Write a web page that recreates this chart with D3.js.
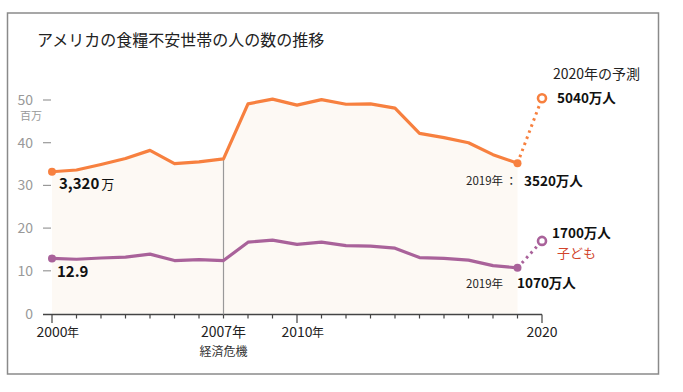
<!DOCTYPE html>
<html><head><meta charset="utf-8">
<script src="https://cdn.jsdelivr.net/npm/d3@7"></script>
<style>
body{margin:0;background:#fff;}
text{font-family:"Noto Sans CJK JP","Noto Sans",sans-serif;}
</style></head>
<body><svg id="c" width="683" height="392"></svg>
<script>
const years = [2000,2001,2002,2003,2004,2005,2006,2007,2008,2009,2010,2011,2012,2013,2014,2015,2016,2017,2018,2019];
const total = [33.2,33.6,34.9,36.3,38.2,35.1,35.5,36.2,49.1,50.2,48.8,50.1,49.0,49.1,48.1,42.2,41.2,40.0,37.2,35.2];
const children = [12.9,12.7,13.0,13.2,13.9,12.4,12.6,12.4,16.7,17.2,16.2,16.7,15.9,15.8,15.3,13.1,12.9,12.5,11.2,10.7];
const forecastYear = 2020;
const totalForecast = 50.4;
const childrenForecast = 17.0;
const yTicks = [0,10,20,30,40,50];
const xLabels = [{y:2000,t:"2000",s:"年"},{y:2007,t:"2007年",s:""},{y:2010,t:"2010",s:"年"},{y:2020,t:"2020",s:""}];

const orange = "#f7803f", purple = "#a9629a";
const svg = d3.select("#c");
const x = d3.scaleLinear().domain([2000,2020]).range([52,542]);
const y = d3.scaleLinear().domain([0,50]).range([313.5,100]);

// frame
svg.append("rect").attr("x",7.5).attr("y",13).attr("width",651).attr("height",361)
  .attr("fill","none").attr("stroke","#8a8a8a").attr("stroke-width",1.5);

// title
svg.append("text").attr("x",37).attr("y",46).attr("font-size",16).attr("fill","#222")
  .text("アメリカの食糧不安世帯の人の数の推移");

// area
const tot = years.map((yr,i)=>({x:yr,v:total[i]}));
const ch = years.map((yr,i)=>({x:yr,v:children[i]}));
svg.append("path").datum(tot)
  .attr("d", d3.area().x(d=>x(d.x)).y0(y(0)).y1(d=>y(d.v)))
  .attr("fill","#fdf9f4");

// y axis ticks
const ya = svg.append("g");
yTicks.forEach(t=>{
  ya.append("text").attr("x",33).attr("y",y(t)+5).attr("text-anchor","end")
    .attr("font-size",14).attr("fill","#999").text(t);
  if(t>0) ya.append("line").attr("x1",43).attr("x2",51).attr("y1",y(t)).attr("y2",y(t))
    .attr("stroke","#999").attr("stroke-width",1.2);
});
ya.append("text").attr("x",20).attr("y",120).attr("font-size",11).attr("fill","#999").text("百万");

// x axis
svg.append("line").attr("x1",43).attr("x2",x(2020)).attr("y1",314.5).attr("y2",314.5)
  .attr("stroke","#444").attr("stroke-width",1.3);
d3.range(2000,2021).forEach(yr=>{
  const major = (yr===2000||yr===2010||yr===2020);
  svg.append("line").attr("x1",x(yr)).attr("x2",x(yr)).attr("y1",314.5).attr("y2",major?323:318.5)
    .attr("stroke","#444").attr("stroke-width",1.2);
});
xLabels.forEach(l=>{
  svg.append("text").attr("x",x(l.y)).attr("y",337).attr("text-anchor","middle")
    .attr("font-size",14).attr("fill","#222").text(l.t);
  if(l.s){
    svg.append("text").attr("x",x(l.y)+15).attr("y",337).attr("font-size",12).attr("fill","#222").text(l.s);
  }
});
svg.append("text").attr("x",x(2007)).attr("y",356).attr("text-anchor","middle")
  .attr("font-size",12).attr("fill","#333").text("経済危機");

// 2007 vertical line
svg.append("line").attr("x1",x(2007)).attr("x2",x(2007)).attr("y1",y(36.2)).attr("y2",314.5)
  .attr("stroke","#999").attr("stroke-width",1.2);

// lines
const line = d3.line().x(d=>x(d.x)).y(d=>y(d.v));
svg.append("path").datum(tot).attr("d",line).attr("fill","none").attr("stroke",orange).attr("stroke-width",3.2).attr("stroke-linejoin","round");
svg.append("path").datum(ch).attr("d",line).attr("fill","none").attr("stroke",purple).attr("stroke-width",3.2).attr("stroke-linejoin","round");

// forecast dotted
function dotted(v0,v1,c){
  svg.append("line").attr("x1",x(2019)).attr("y1",y(v0)).attr("x2",x(forecastYear)).attr("y2",y(v1))
    .attr("stroke",c).attr("stroke-width",3).attr("stroke-dasharray","2.5,4");
}
dotted(total[19],totalForecast,orange);
dotted(children[19],childrenForecast,purple);

// dots
[[2000,total[0],orange],[2019,total[19],orange],[2000,children[0],purple],[2019,children[19],purple]].forEach(d=>{
  svg.append("circle").attr("cx",x(d[0])).attr("cy",y(d[1])).attr("r",4).attr("fill",d[2]);
});
[[totalForecast,orange],[childrenForecast,purple]].forEach(d=>{
  svg.append("circle").attr("cx",x(forecastYear)).attr("cy",y(d[0])).attr("r",4).attr("fill","#fff")
    .attr("stroke",d[1]).attr("stroke-width",2.6);
});

// annotations
const a1 = svg.append("text").attr("x",59).attr("y",189).attr("fill","#111");
a1.append("tspan").attr("font-size",15).attr("font-weight","bold").text("3,320");
a1.append("tspan").attr("font-size",13).attr("dx",2).text("万");
svg.append("text").attr("x",57).attr("y",277).attr("font-size",15).attr("font-weight","bold").attr("fill","#111").text("12.9");

svg.append("text").attr("x",553).attr("y",79).attr("font-size",14).attr("fill","#222").text("2020年の予測");
svg.append("text").attr("x",557).attr("y",103).attr("font-size",13.5).attr("font-weight","bold").attr("fill","#111").text("5040万人");
svg.append("text").attr("x",466).attr("y",185).attr("font-size",11.5).attr("fill","#222").text("2019年 ：");
svg.append("text").attr("x",524).attr("y",186).attr("font-size",13.5).attr("font-weight","bold").attr("fill","#111").text("3520万人");
svg.append("text").attr("x",552).attr("y",238).attr("font-size",13.5).attr("font-weight","bold").attr("fill","#111").text("1700万人");
svg.append("text").attr("x",557).attr("y",258).attr("font-size",13).attr("fill","#d2442b").text("子ども");
svg.append("text").attr("x",466).attr("y",288).attr("font-size",11.5).attr("fill","#222").text("2019年");
svg.append("text").attr("x",517).attr("y",288).attr("font-size",13.5).attr("font-weight","bold").attr("fill","#111").text("1070万人");
</script></body></html>
